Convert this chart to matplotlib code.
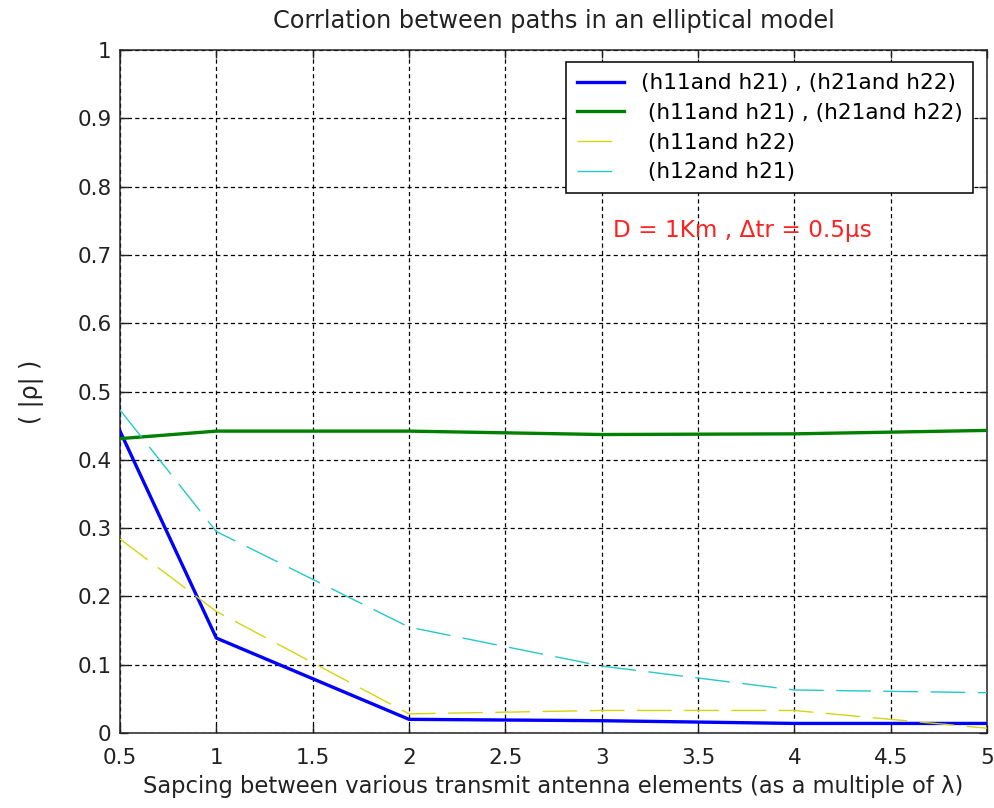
import matplotlib
matplotlib.use("Agg")
import matplotlib.pyplot as plt

# Data
x = [0.5, 1, 2, 3, 4, 5]
rho_blue = [0.442, 0.139, 0.020, 0.018, 0.014, 0.014]
rho_green = [0.431, 0.442, 0.442, 0.437, 0.438, 0.443]
rho_yellow = [0.284, 0.178, 0.028, 0.033, 0.033, 0.007]
rho_cyan = [0.473, 0.295, 0.155, 0.098, 0.063, 0.059]
labels = ["(h11and h21) , (h21and h22)",
          " (h11and h21) , (h21and h22)",
          " (h11and h22)",
          " (h12and h21)"]
xticks = [0.5, 1, 1.5, 2, 2.5, 3, 3.5, 4, 4.5, 5]
yticks = [0, 0.1, 0.2, 0.3, 0.4, 0.5, 0.6, 0.7, 0.8, 0.9, 1]

plt.rcParams['font.family'] = ['DejaVu Sans']
plt.rcParams['lines.scale_dashes'] = False

fig = plt.figure(figsize=(9.95, 8.08), dpi=100)
ax = fig.add_axes([120/995, 1-733/808, 867/995, 683/808])

ax.plot(x, rho_blue, color='#0000ff', lw=2.4, label=labels[0], zorder=3)
ax.plot(x, rho_green, color='#008000', lw=2.4, label=labels[1], zorder=3)
ax.plot(x, rho_yellow, color='#d4d410', lw=1.0, dashes=(25, 9), label=labels[2], zorder=3)
ax.plot(x, rho_cyan, color='#26c8c8', lw=1.0, dashes=(25, 9), label=labels[3], zorder=3)

ax.set_xlim(0.5, 5)
ax.set_ylim(0, 1)
ax.set_xticks(xticks)
ax.set_xticklabels([f"{t:g}" for t in xticks])
ax.set_yticks(yticks)
ax.set_yticklabels([f"{t:g}" for t in yticks])
ax.tick_params(direction='in', length=6, width=1, top=True, right=True,
               labelsize=15.5, colors='#222222')
ax.tick_params(axis='x', pad=11)
ax.tick_params(axis='y', pad=6)
for s in ax.spines.values():
    s.set_linewidth(1.1)
    s.set_color('#222222')
ax.grid(True, color='black', lw=0.9, linestyle=(0, (3, 2.3)))
ax.set_axisbelow(True)

ax.set_title("Corrlation between paths in an elliptical model", fontsize=17.3,
             color='#222222', pad=16)
ax.set_xlabel("Sapcing between various transmit antenna elements (as a multiple of λ)",
              fontsize=16.3, color='#222222', labelpad=5)
ax.set_ylabel("( |ρ| )", fontsize=17, color='#222222', labelpad=24)

ax.text(3.06, 0.735, "D = 1Km , Δtr = 0.5μs", color='#ff2020', fontsize=16.7,
        va='center', ha='left')

leg = ax.legend(loc='upper right', bbox_to_anchor=(0.984, 0.982), borderaxespad=0,
                fontsize=15.6, fancybox=False, framealpha=1, edgecolor='black',
                handlelength=2.2, handletextpad=0.75, labelspacing=0.45,
                borderpad=0.5)
leg.get_frame().set_linewidth(1.1)

fig.savefig("out.png", dpi=100)
